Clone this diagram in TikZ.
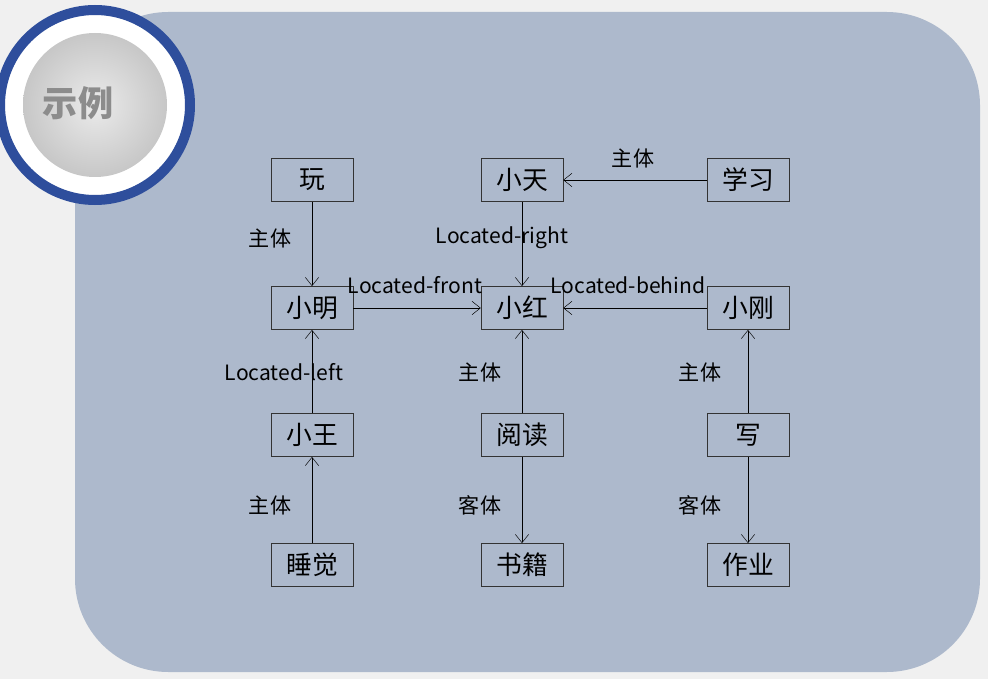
\documentclass[tikz,border=0pt]{standalone}
\usepackage{fontspec}
\setmainfont{Noto Sans CJK SC}
\usepackage{tikz}
\usetikzlibrary{arrows.meta}
\definecolor{panel}{HTML}{ADB9CC}
\definecolor{ring}{HTML}{2E4E9C}
\begin{document}
\begin{tikzpicture}[x=0.03cm,y=-0.03cm,
  word/.style={draw=black!80, fill=panel, minimum width=2.46cm, minimum height=1.3cm, inner sep=0pt, font=\fontsize{22}{22}\selectfont},
  lab/.style={font=\fontsize{18}{18}\selectfont, inner sep=1pt}]
\useasboundingbox (0,0) rectangle (988,679);
\fill[black!6] (0,0) rectangle (988,679);
\fill[panel, rounded corners=2.8cm] (75,12) rectangle (980,672);
\draw[ring, line width=0.3cm, fill=white] (95,105) circle (95);
\shade[inner color=black!8, outer color=black!22] (95,105) circle (72);
\node[text=black!45, font=\fontsize{30}{30}\selectfont\bfseries] (title) at (78,103) {示例};
% nodes
\node[word] (wan) at (312,180) {玩};
\node[word] (xiaotian) at (522,180) {小天};
\node[word] (xuexi) at (748,180) {学习};
\node[word] (xiaoming) at (312,308) {小明};
\node[word] (xiaohong) at (522,308) {小红};
\node[word] (xiaogang) at (748,308) {小刚};
\node[word] (xiaowang) at (312,435) {小王};
\node[word] (yuedu) at (522,435) {阅读};
\node[word] (xie) at (748,435) {写};
\node[word] (shuijiao) at (312,565) {睡觉};
\node[word] (shuji) at (522,565) {书籍};
\node[word] (zuoye) at (748,565) {作业};

\path[-{Straight Barb[length=2.5mm,width=4mm]}, thin] (wan) edge (xiaoming)
              (xiaotian) edge (xiaohong)
              (xuexi) edge (xiaotian)
              (xiaoming) edge (xiaohong)
              (xiaogang) edge (xiaohong)
              (xiaowang) edge (xiaoming)
              (shuijiao) edge (xiaowang)
              (yuedu) edge (xiaohong)
              (yuedu) edge (shuji)
              (xie) edge (xiaogang)
              (xie) edge (zuoye)
;
\node[lab] (l1) at (270,238) {主体};
\node[lab] (l2) at (502,238) {Located-right};
\node[lab] (l3) at (633,158) {主体};
\node[lab] (l4) at (415,285) {Located-front};
\node[lab] (l5) at (628,285) {Located-behind};
\node[lab] (l6) at (284,372) {Located-left};
\node[lab] (l7) at (480,372) {主体};
\node[lab] (l8) at (700,372) {主体};
\node[lab] (l9) at (270,505) {主体};
\node[lab] (l10) at (480,505) {客体};
\node[lab] (l11) at (700,505) {客体};
\end{tikzpicture}
\end{document}
